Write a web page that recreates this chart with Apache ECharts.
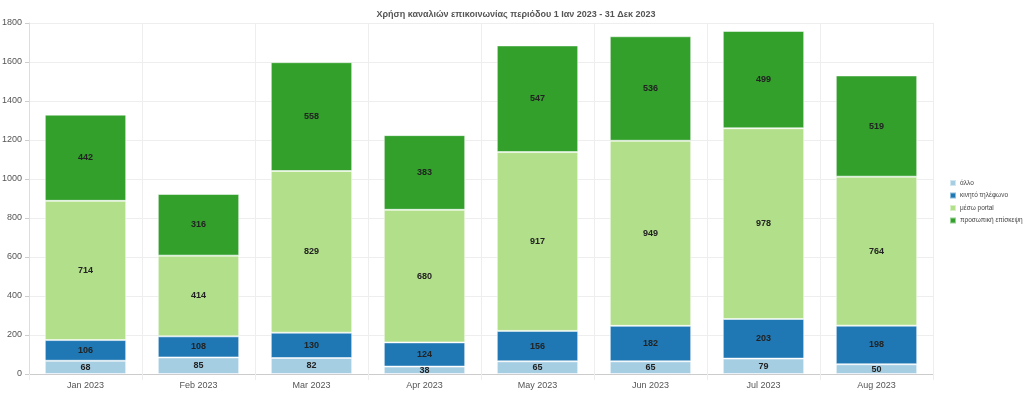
<!DOCTYPE html>
<html><head><meta charset="utf-8">
<script src="https://cdn.jsdelivr.net/npm/echarts@6/dist/echarts.min.js"></script>
<style>html,body{margin:0;padding:0;background:#fff}#c{width:1024px;height:395px}</style>
</head><body><div id="c"></div>
<script>
const categories = ['Jan 2023','Feb 2023','Mar 2023','Apr 2023','May 2023','Jun 2023','Jul 2023','Aug 2023'];
const seriesNames = ['άλλο','κινητό τηλέφωνο','μέσω portal','προσωπική επίσκεψη'];
const allo = [68,85,82,38,65,65,79,50];
const kinito = [106,108,130,124,156,182,203,198];
const portal = [714,414,829,680,917,949,978,764];
const episkepsi = [442,316,558,383,547,536,499,519];
const yTicks = [0,200,400,600,800,1000,1200,1400,1600,1800];
const colors = ['#a6cee3','#1f78b4','#b2df8a','#33a02c'];

const chart = echarts.init(document.getElementById('c'));
const dataSets = [allo,kinito,portal,episkepsi];
chart.setOption({
  animation:false,
  color:colors,
  title:{text:'Χρήση καναλιών επικοινωνίας περιόδου 1 Ιαν 2023 - 31 Δεκ 2023',left:511,textAlign:'center',top:5,
    textStyle:{fontSize:9,fontWeight:'bold',color:'#555',fontFamily:'Arial, Liberation Sans'}},
  legend:{orient:'vertical',left:944,top:174,itemWidth:6,itemHeight:6,itemGap:4.5,icon:'rect',
    textStyle:{fontSize:6.5,color:'#444',padding:[0,0,0,-1],fontFamily:'Arial, Liberation Sans'},data:seriesNames},
  grid:{left:29,right:91,top:23,bottom:21,containLabel:false,outerBoundsMode:'none'},
  xAxis:{type:'category',data:categories,
    axisLine:{lineStyle:{color:'#ccc'}},
    axisTick:{show:true,length:6,lineStyle:{color:'#eee'}},
    splitLine:{show:true,lineStyle:{color:'#eee'}},
    axisLabel:{fontSize:9,color:'#555',margin:7,fontFamily:'Arial, Liberation Sans'}},
  yAxis:{type:'value',min:yTicks[0],max:yTicks[yTicks.length-1],interval:200,
    axisLine:{show:true,lineStyle:{color:'#ddd'}},
    axisTick:{show:true,length:4,lineStyle:{color:'#ccc'}},
    splitLine:{lineStyle:{color:'#eee'}},
    axisLabel:{fontSize:9,color:'#555',margin:7,formatter:v=>String(v),fontFamily:'Arial, Liberation Sans'}},
  series:seriesNames.map((n,i)=>({
    name:n,type:'bar',stack:'total',barWidth:'72%',data:dataSets[i],
    itemStyle:{borderColor:'rgba(255,255,255,0.5)',borderWidth:1},
    label:{show:true,position:'inside',fontSize:9,fontWeight:'bold',color:'#222',fontFamily:'Arial, Liberation Sans'}
  }))
});
</script></body></html>
